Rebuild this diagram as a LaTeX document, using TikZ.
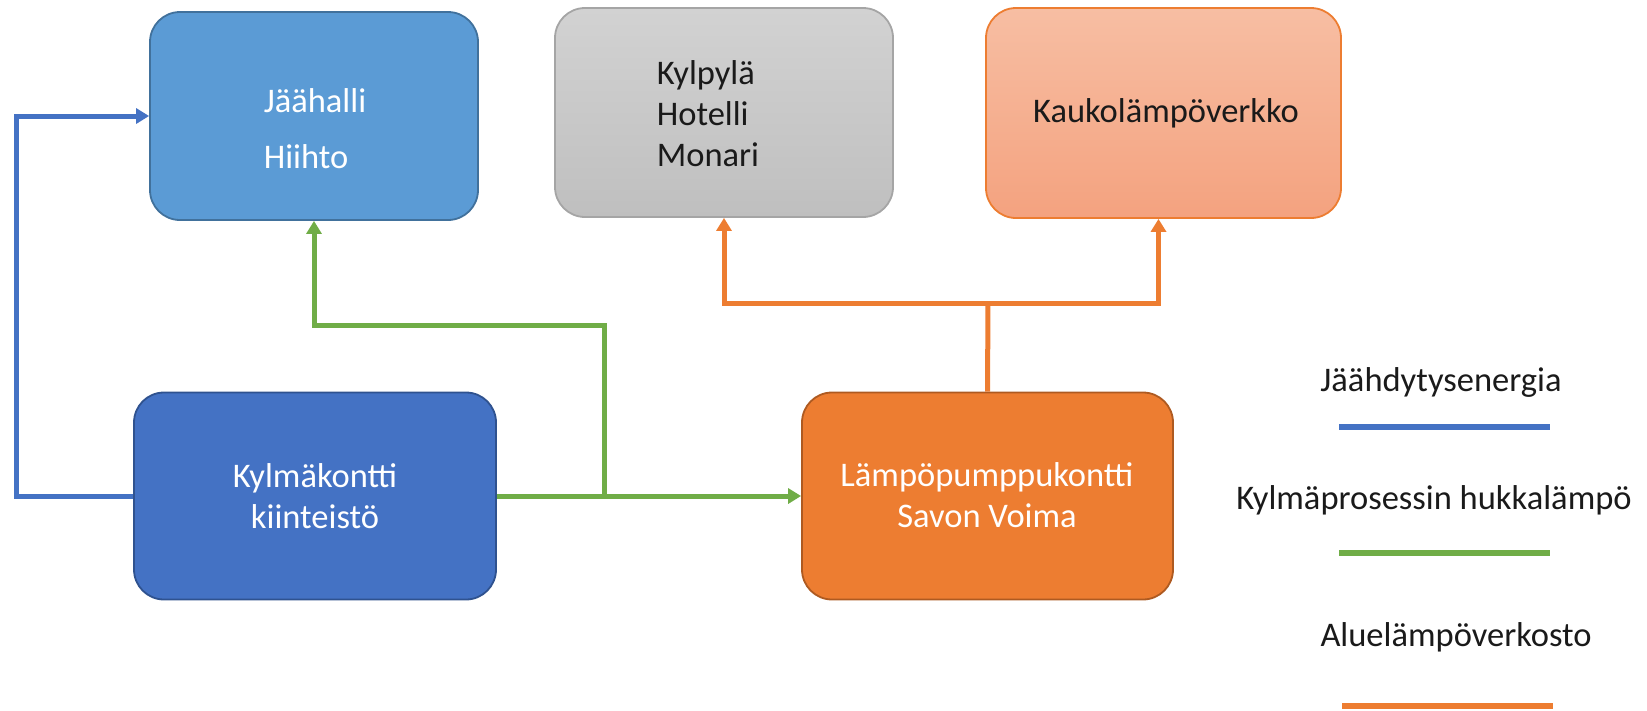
\documentclass[tikz,border=0pt]{standalone}
\usepackage{fontspec}
\setmainfont{Carlito}
\usetikzlibrary{arrows.meta,calc}
\definecolor{cBlueA}{HTML}{5B9BD5}
\definecolor{cBlueAb}{HTML}{41719C}
\definecolor{cBlueB}{HTML}{4472C4}
\definecolor{cBlueBb}{HTML}{2F528F}
\definecolor{cOrange}{HTML}{ED7D31}
\definecolor{cOrangeb}{HTML}{AE5A21}
\definecolor{cGreen}{HTML}{70AD47}
\definecolor{cGreyT}{HTML}{D2D2D2}
\definecolor{cGreyB}{HTML}{BFBFBF}
\definecolor{cGreyb}{HTML}{A5A5A5}
\definecolor{cPeachT}{HTML}{F7BEA3}
\definecolor{cPeachB}{HTML}{F4A27F}
\definecolor{cTxt}{HTML}{1A1A1A}
\tikzset{
  boxbase/.style={rectangle, rounded corners=30pt, line width=1.8pt, inner sep=0pt},
  txt/.style={font=\fontsize{34.5}{41}\selectfont, inner sep=0pt},
  wtxt/.style={txt, text=white},
  dtxt/.style={txt, text=cTxt},
  flow/.style={line width=5pt},
  tip/.style={-{Triangle[length=13pt,width=15pt]}},
  legline/.style={line width=6pt},
}
\begin{document}
\begin{tikzpicture}[x=1pt,y=-1pt]
\useasboundingbox (0,0) rectangle (1647,710);
% boxes
\node[boxbase, draw=cBlueAb, fill=cBlueA, minimum width=328pt, minimum height=208pt] (j) at (314,116) {};
\node[boxbase, draw=cGreyb, top color=cGreyT, bottom color=cGreyB, minimum width=338pt, minimum height=209pt] (h) at (724,112.5) {};
\node[boxbase, draw=cOrange, top color=cPeachT, bottom color=cPeachB, minimum width=355pt, minimum height=210pt] (kk) at (1163.5,113) {};
\node[boxbase, draw=cBlueBb, fill=cBlueB, minimum width=362pt, minimum height=207pt] (k) at (315,496) {};
\node[boxbase, draw=cOrangeb, fill=cOrange, minimum width=371pt, minimum height=207pt] (l) at (987.5,496) {};
% texts
\node[wtxt, align=left] (jt) at (315,129) {Jäähalli\\[15pt]Hiihto};
\node[dtxt, align=left] (ht) at (708,114) {Kylpylä\\Hotelli\\Monari};
\node[dtxt] (kkt) at (1166,113) {Kaukolämpöverkko};
\node[wtxt, align=center] (kt) at (315,496) {Kylmäkontti\\kiinteistö};
\node[wtxt, align=center] (lt) at (987,495) {Lämpöpumppukontti\\Savon Voima};
% connector helper coordinates
\coordinate (bl) at (16,300);
\coordinate (gx) at (604,325);
\coordinate (oy) at (988,303);
% blue
\draw[flow, draw=cBlueB, tip] (k.west) -- (bl |- k.west) -- (bl |- j.west) -- (j.west);
% green
\draw[flow, draw=cGreen, tip] (k.east) -- (l.west);
\draw[flow, draw=cGreen, tip] (gx |- k.east) -- (gx) -- (j.south |- gx) -- (j.south);
% orange
\draw[flow, draw=cOrange] (l.north) -- (oy);
\draw[flow, draw=cOrange, tip] (oy) -- (h.south |- oy) -- (h.south);
\draw[flow, draw=cOrange, tip] (oy) -- ([xshift=-5pt]kk.south |- oy) -- ([xshift=-5pt]kk.south);
% legend
\node[dtxt] (l1) at (1441,382) {Jäähdytysenergia};
\node[dtxt] (l2) at (1434,500) {Kylmäprosessin hukkalämpö};
\node[dtxt] (l3) at (1456,637) {Aluelämpöverkosto};
\coordinate (a1) at (1339,427); \coordinate (b1) at (1550,427);
\coordinate (a2) at (1339,553); \coordinate (b2) at (1550,553);
\coordinate (a3) at (1342,706); \coordinate (b3) at (1553,706);
\draw[legline, draw=cBlueB] (a1) -- (b1);
\draw[legline, draw=cGreen] (a2) -- (b2);
\draw[legline, draw=cOrange] (a3) -- (b3);
\end{tikzpicture}
\end{document}
